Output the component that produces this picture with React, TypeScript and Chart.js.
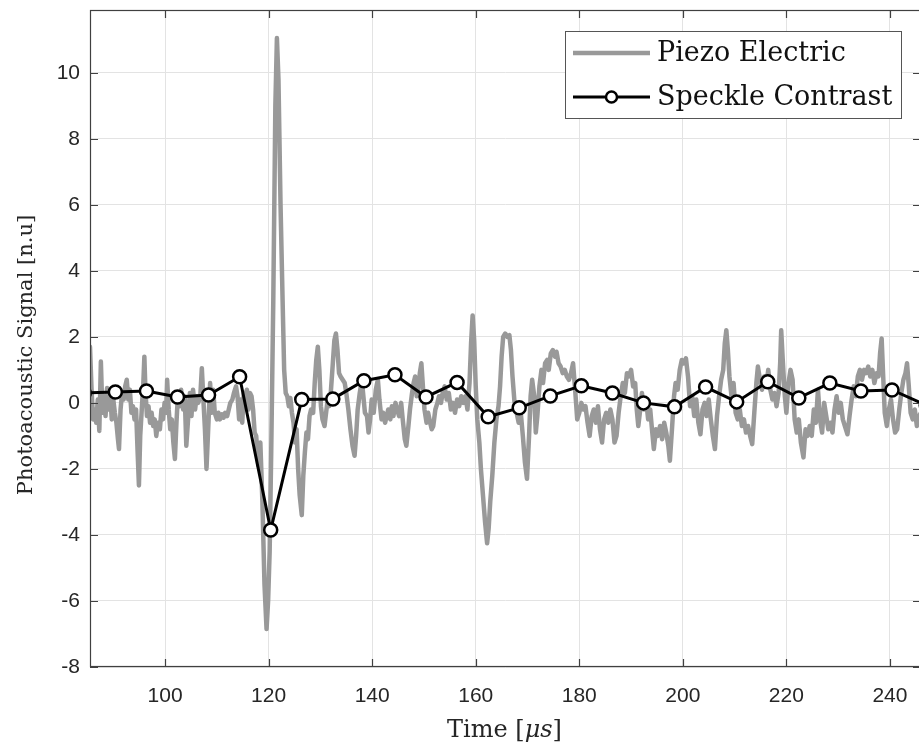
import React, { useEffect, useRef } from "react";
import { Chart, registerables } from "chart.js";

Chart.register(...registerables);

// ---- axis setup ----
const X_MIN = 85.5;
const X_MAX = 246;
const Y_MIN = -8;
const Y_MAX = 11.9;
const xTickValues = [100, 120, 140, 160, 180, 200, 220, 240];
const yTickValues = [-8, -6, -4, -2, 0, 2, 4, 6, 8, 10];

const xTitleParts: [string, boolean][] = [["Time [", false], ["\u03bcs", true], ["]", false]];
const yTitle = "Photoacoustic Signal [n.u]";
const piezoLabel = "Piezo Electric";
const speckleLabel = "Speckle Contrast";

// ---- Speckle contrast series ----
const speckleTime = [
  84.4, 90.4, 96.4, 102.4, 108.4, 114.4, 120.4, 126.4, 132.4, 138.4, 144.4, 150.4, 156.4, 162.4,
  168.4, 174.4, 180.4, 186.4, 192.4, 198.4, 204.4, 210.4, 216.4, 222.4, 228.4, 234.4, 240.4, 247.0,
];
const speckleValue = [
  0.3, 0.33, 0.36, 0.18, 0.24, 0.79, -3.85, 0.1, 0.12, 0.67, 0.85, 0.18, 0.62, -0.42,
  -0.15, 0.21, 0.52, 0.3, 0.0, -0.12, 0.48, 0.03, 0.64, 0.15, 0.6, 0.36, 0.39, -0.07,
];

// ---- Piezo electric series: [time, value] ----
const piezoPoints: [number, number][] = [
  [85.5, 1.7], [85.8, 0.4], [86.1, -0.5], [86.4, -0.2], [86.7, -0.6], [87.0, 0.1], [87.3, -0.85], [87.6, 1.25],
  [87.9, -0.3], [88.2, 0.2], [88.5, -0.4], [88.8, 0.45], [89.1, -0.2], [89.4, 0.3], [89.7, -0.5], [90.0, 0.1],
  [90.3, -0.3], [90.6, -0.6], [90.9, -1.1], [91.1, -1.4], [91.4, -0.2], [91.7, 0.3], [92.0, 0.1], [92.3, 0.5],
  [92.6, 0.7], [92.9, 0.1], [93.2, 0.4], [93.5, -0.3], [93.8, -0.1], [94.1, -0.5], [94.4, -0.2], [94.7, -1.5],
  [94.95, -2.5], [95.2, -1.0], [95.5, -0.2], [95.8, 0.6], [96.0, 1.4], [96.2, 0.4], [96.5, -0.4], [96.8, -0.1],
  [97.1, -0.6], [97.4, -0.3], [97.7, -0.7], [98.0, -0.5], [98.3, -1.0], [98.6, -0.6], [99.0, -0.8], [99.3, -0.2],
  [99.6, -0.5], [99.9, 0.0], [100.2, -0.3], [100.4, 0.7], [100.7, -0.2], [101.0, -0.8], [101.3, -0.5], [101.6, -1.2],
  [101.9, -1.7], [102.2, -0.6], [102.5, 0.3], [102.8, -0.1], [103.1, 0.4], [103.5, -0.2], [103.8, 0.2], [104.1, -1.3],
  [104.4, -0.6], [104.8, 0.3], [105.1, -0.4], [105.4, 0.4], [105.8, -0.2], [106.1, 0.2], [106.4, 0.0], [106.8, 0.2],
  [107.1, 1.05], [107.4, 0.1], [107.7, -0.8], [108.0, -2.0], [108.3, -0.9], [108.7, 0.6], [109.0, -0.3], [109.3, 0.4],
  [109.6, -0.3], [110.0, -0.5], [110.3, -0.3], [110.6, -0.5], [111.0, -0.35], [111.3, -0.45], [111.6, -0.3], [112.0, -0.4],
  [112.3, -0.2], [112.6, 0.0], [113.0, 0.1], [113.3, 0.3], [113.7, 0.5], [114.0, 0.2], [114.3, -0.5], [114.6, 0.1],
  [114.9, -0.6], [115.2, 0.3], [115.5, 0.2], [115.8, 0.4], [116.1, -0.2], [116.4, 0.3], [116.7, 0.2], [117.0, -0.2],
  [117.3, -0.9], [117.6, -1.0], [118.0, -1.9], [118.4, -1.2], [118.8, -3.0], [119.2, -5.5], [119.6, -6.85], [119.9, -6.0],
  [120.2, -4.5], [120.5, -1.5], [120.9, 3.1], [121.3, 9.0], [121.6, 11.05], [121.9, 9.8], [122.3, 6.0], [122.7, 3.1],
  [123.0, 1.0], [123.3, 0.3], [123.6, 0.2], [123.9, -0.1], [124.2, 0.15], [124.5, -0.3], [124.8, -0.6], [125.1, -1.2],
  [125.4, -0.8], [125.7, -2.0], [126.0, -2.8], [126.4, -3.4], [126.7, -2.2], [127.0, -1.5], [127.3, -0.9], [127.6, -1.1],
  [127.9, -0.4], [128.2, -0.2], [128.6, -0.3], [128.9, 0.6], [129.2, 1.3], [129.5, 1.7], [129.8, 1.0], [130.1, -0.1],
  [130.4, -0.5], [130.8, -0.7], [131.1, -0.3], [131.4, 0.1], [131.7, -0.1], [132.0, 0.3], [132.4, 1.2], [132.7, 1.9],
  [133.0, 2.1], [133.3, 1.6], [133.6, 0.9], [133.9, 0.8], [134.3, 0.7], [134.7, 0.6], [135.0, 0.3], [135.4, -0.2],
  [135.8, -0.8], [136.2, -1.3], [136.6, -1.6], [136.9, -1.0], [137.2, -0.2], [137.6, 0.3], [138.0, 0.7], [138.3, 0.2],
  [138.6, -0.3], [139.0, -0.4], [139.3, -0.9], [139.6, -0.5], [139.9, 0.1], [140.3, -0.3], [140.7, 0.4], [141.1, 0.7],
  [141.4, 0.1], [141.8, -0.5], [142.1, -0.3], [142.5, -0.6], [142.8, -0.4], [143.1, -0.2], [143.5, -0.5], [143.8, -0.1],
  [144.1, -0.4], [144.5, 0.0], [144.8, -0.2], [145.2, -0.4], [145.6, 0.0], [145.9, -0.5], [146.3, -1.1], [146.6, -1.3],
  [147.0, -0.7], [147.3, -0.2], [147.7, 0.3], [148.0, 0.6], [148.3, 0.8], [148.6, 0.2], [148.9, 0.4], [149.2, 0.9],
  [149.5, 1.2], [149.8, 0.5], [150.1, -0.2], [150.5, -0.6], [150.8, -0.3], [151.2, -0.6], [151.5, -0.8], [151.8, -0.7],
  [152.2, -0.2], [152.6, 0.0], [152.9, 0.2], [153.3, 0.0], [153.6, 0.3], [154.0, 0.5], [154.4, 0.1], [154.8, 0.3],
  [155.2, -0.2], [155.6, 0.0], [156.0, -0.3], [156.4, 0.1], [156.8, -0.1], [157.2, 0.2], [157.6, 0.0], [158.0, 0.2],
  [158.4, -0.2], [158.8, 0.6], [159.1, 1.8], [159.4, 2.65], [159.7, 1.9], [160.0, 0.5], [160.3, -0.5], [160.7, -1.2],
  [161.0, -2.0], [161.4, -2.8], [161.8, -3.6], [162.2, -4.25], [162.5, -3.8], [162.8, -3.0], [163.2, -2.2], [163.6, -1.2],
  [164.0, -0.5], [164.4, -0.1], [164.7, 0.5], [165.0, 1.4], [165.3, 2.0], [165.7, 2.1], [166.1, 2.0], [166.5, 2.05],
  [166.8, 1.6], [167.1, 0.8], [167.5, 0.0], [167.9, -0.3], [168.3, -0.6], [168.7, -0.3], [169.1, -1.0], [169.5, -1.8],
  [169.9, -2.3], [170.3, -1.0], [170.6, 0.2], [170.9, 0.7], [171.3, 0.2], [171.6, -0.9], [171.9, -0.4], [172.3, 0.5],
  [172.7, 1.0], [173.0, 0.6], [173.4, 1.2], [173.8, 1.3], [174.1, 1.0], [174.5, 1.5], [174.9, 1.6], [175.3, 1.4],
  [175.6, 1.55], [176.0, 1.2], [176.4, 1.1], [176.8, 0.9], [177.2, 1.0], [177.6, 0.8], [178.0, 0.7], [178.4, 0.9],
  [178.8, 1.2], [179.2, 0.4], [179.6, -0.5], [180.0, -0.3], [180.4, 0.0], [180.8, -0.2], [181.2, -0.1], [181.6, -0.6],
  [182.0, -1.0], [182.4, -0.4], [182.8, -0.2], [183.2, -0.6], [183.6, -0.1], [184.0, -0.8], [184.4, -1.2], [184.8, -0.5],
  [185.2, -0.3], [185.6, -0.6], [186.0, -0.2], [186.4, -0.5], [186.8, -1.2], [187.2, -1.0], [187.6, -0.3], [188.0, 0.2],
  [188.4, 0.6], [188.8, 0.3], [189.2, 0.9], [189.6, 0.8], [190.0, 1.0], [190.4, 0.5], [190.8, 0.6], [191.1, -0.2],
  [191.4, -0.7], [191.7, -0.3], [192.1, 0.3], [192.5, -0.2], [192.9, 0.1], [193.3, -0.5], [193.7, -0.2], [194.1, -0.9],
  [194.4, -1.4], [194.8, -0.8], [195.2, -1.0], [195.6, -0.7], [196.0, -1.1], [196.4, -0.6], [196.8, -0.9], [197.2, -1.3],
  [197.5, -1.75], [197.9, -0.8], [198.3, 0.2], [198.6, 0.6], [199.0, 0.4], [199.4, 1.0], [199.8, 1.3], [200.2, 1.2],
  [200.6, 1.35], [201.0, 0.8], [201.4, -0.1], [201.8, 0.2], [202.2, -0.4], [202.6, 0.1], [203.0, -0.6], [203.4, -0.95],
  [203.8, -0.2], [204.2, 0.0], [204.6, -0.4], [205.0, 0.1], [205.4, -0.5], [205.8, -1.0], [206.2, -1.4], [206.6, -0.4],
  [207.0, 0.2], [207.4, 0.7], [207.8, 1.0], [208.1, 1.8], [208.4, 2.2], [208.7, 1.6], [209.0, 0.8], [209.4, 0.2],
  [209.8, 0.6], [210.2, -0.3], [210.6, -0.5], [211.0, -0.2], [211.4, -0.7], [211.8, -0.5], [212.2, -0.9], [212.6, -0.7],
  [213.0, -1.0], [213.4, -1.25], [213.8, -0.3], [214.2, 0.6], [214.5, 1.1], [214.9, 0.7], [215.3, 0.4], [215.7, 0.8],
  [216.1, 0.5], [216.5, 1.0], [216.9, 0.4], [217.3, 0.1], [217.7, 0.3], [218.1, -0.1], [218.5, 0.3], [218.8, 1.2],
  [219.0, 2.2], [219.3, 1.3], [219.7, 0.2], [220.0, -0.3], [220.4, 0.6], [220.8, 1.0], [221.2, 0.7], [221.6, -0.5],
  [222.0, -0.9], [222.4, -0.5], [222.8, -1.2], [223.3, -1.65], [223.7, -0.8], [224.1, -1.0], [224.5, -0.7], [224.9, -1.0],
  [225.3, -0.2], [225.7, -0.6], [226.1, 0.4], [226.5, -0.5], [226.9, -0.9], [227.3, 0.0], [227.7, -0.4], [228.1, -0.8],
  [228.5, -0.6], [228.9, -0.9], [229.3, -0.2], [229.7, 0.2], [230.1, -0.3], [230.5, 0.0], [230.9, -0.5], [231.3, -0.7],
  [231.8, -0.95], [232.2, -0.4], [232.6, 0.1], [233.0, 0.5], [233.4, 0.2], [233.8, 0.8], [234.2, 1.0], [234.6, 0.7],
  [235.0, 1.0], [235.4, 0.9], [235.8, 1.1], [236.2, 0.8], [236.6, 1.0], [237.0, 0.6], [237.4, 0.9], [237.8, 0.8],
  [238.1, 1.5], [238.4, 1.95], [238.7, 0.8], [239.0, -0.3], [239.4, -0.7], [239.8, -0.2], [240.2, 0.1], [240.6, -0.5],
  [241.0, -0.9], [241.4, -0.8], [241.8, -0.2], [242.2, 0.3], [242.6, 0.7], [243.0, 0.9], [243.3, 1.2], [243.6, 0.6],
  [244.0, -0.3], [244.4, -0.5], [244.8, -0.2], [245.2, -0.7], [245.6, -0.4], [246.0, -0.3],
];

const AXIS_COLOR = "#404040";
const TEXT_COLOR = "#262626";
const GRID_COLOR = "#e3e3e3";
const PIEZO_COLOR = "#999999";
const SERIF = '"DejaVu Serif", serif';
const SANS = '"Liberation Sans", Arial, sans-serif';

const zeroPadding = (s: any) => {
  s.paddingTop = 0;
  s.paddingBottom = 0;
  s.paddingLeft = 0;
  s.paddingRight = 0;
};

const framePlugin = {
  id: "matlabFrame",
  afterDraw(chart: any) {
    const { ctx, chartArea: a, scales } = chart;
    const xs = scales.x;
    const ys = scales.y;
    ctx.save();
    // box
    ctx.strokeStyle = AXIS_COLOR;
    ctx.lineWidth = 1.2;
    ctx.strokeRect(a.left + 0.5, a.top + 0.5, a.right - a.left - 1, a.bottom - a.top - 1);
    // inward ticks
    const tl = 8;
    ctx.beginPath();
    xTickValues.forEach((v) => {
      const px = Math.round(xs.getPixelForValue(v)) + 0.5;
      ctx.moveTo(px, a.bottom);
      ctx.lineTo(px, a.bottom - tl);
      ctx.moveTo(px, a.top);
      ctx.lineTo(px, a.top + tl);
    });
    yTickValues.forEach((v) => {
      const py = Math.round(ys.getPixelForValue(v)) + 0.5;
      ctx.moveTo(a.left, py);
      ctx.lineTo(a.left + tl, py);
      ctx.moveTo(a.right, py);
      ctx.lineTo(a.right - tl, py);
    });
    ctx.stroke();

    // x title with italic part
    ctx.fillStyle = TEXT_COLOR;
    ctx.textBaseline = "alphabetic";
    ctx.textAlign = "left";
    const fontN = `24px ${SERIF}`;
    const fontI = `italic 24px ${SERIF}`;
    let total = 0;
    xTitleParts.forEach(([t, it]) => {
      ctx.font = it ? fontI : fontN;
      total += ctx.measureText(t).width;
    });
    let cx = (a.left + 919) / 2 - total / 2;
    xTitleParts.forEach(([t, it]) => {
      ctx.font = it ? fontI : fontN;
      ctx.fillText(t, cx, 737);
      cx += ctx.measureText(t).width;
    });

    // y title
    ctx.save();
    ctx.translate(27, 355);
    ctx.rotate(-Math.PI / 2);
    ctx.font = `21px ${SERIF}`;
    ctx.textAlign = "center";
    ctx.textBaseline = "middle";
    ctx.fillText(yTitle, 0, 0);
    ctx.restore();

    // legend
    const boxL = 565, boxT = 31, boxR = 902, boxB = 119;
    ctx.fillStyle = "#ffffff";
    ctx.fillRect(boxL, boxT, boxR - boxL, boxB - boxT);
    ctx.strokeStyle = "#555555";
    ctx.lineWidth = 1;
    ctx.strokeRect(boxL + 0.5, boxT + 0.5, boxR - boxL - 1, boxB - boxT - 1);
    const rows = [53, 97];
    const ds = chart.data.datasets;
    ctx.font = `27px ${SERIF}`;
    ctx.textAlign = "left";
    ctx.textBaseline = "middle";
    // row 1: piezo
    ctx.strokeStyle = PIEZO_COLOR;
    ctx.lineWidth = 4.5;
    ctx.beginPath();
    ctx.moveTo(573, rows[0]);
    ctx.lineTo(650, rows[0]);
    ctx.stroke();
    ctx.fillStyle = "#111111";
    ctx.fillText(ds[0].label, 657, rows[0] + 1);
    // row 2: speckle
    ctx.strokeStyle = "#000000";
    ctx.lineWidth = 3;
    ctx.beginPath();
    ctx.moveTo(573, rows[1]);
    ctx.lineTo(650, rows[1]);
    ctx.stroke();
    ctx.lineWidth = 2.5;
    ctx.fillStyle = "#ffffff";
    ctx.beginPath();
    ctx.arc(611.5, rows[1], 5.5, 0, Math.PI * 2);
    ctx.fill();
    ctx.stroke();
    ctx.fillStyle = "#111111";
    ctx.fillText(ds[1].label, 657, rows[1] + 1);
    ctx.restore();
  },
};

export default function App() {
  const ref = useRef<HTMLCanvasElement | null>(null);
  useEffect(() => {
    if (!ref.current) return;
    const chart = new Chart(ref.current, {
      type: "line",
      data: {
        datasets: [
          {
            label: piezoLabel,
            data: piezoPoints.map(([x, y]) => ({ x, y })),
            borderColor: PIEZO_COLOR,
            borderWidth: 4.5,
            pointRadius: 0,
            borderJoinStyle: "round",
            borderCapStyle: "round",
            tension: 0,
            clip: 0,
            order: 2,
          } as any,
          {
            label: speckleLabel,
            data: speckleTime.map((t, i) => ({ x: t, y: speckleValue[i] })),
            borderColor: "#000000",
            borderWidth: 3,
            pointRadius: 6.5,
            pointBorderWidth: 2.5,
            pointBorderColor: "#000000",
            pointBackgroundColor: "#ffffff",
            tension: 0,
            clip: 0,
            order: 1,
          } as any,
        ],
      },
      options: {
        responsive: false,
        animation: false,
        devicePixelRatio: 1,
        layout: { autoPadding: false, padding: { top: 10, left: 0, right: 0, bottom: 0 } },
        plugins: { legend: { display: false }, tooltip: { enabled: false } },
        scales: {
          x: {
            type: "linear",
            min: X_MIN,
            max: X_MAX,
            afterBuildTicks: (s: any) => {
              s.ticks = xTickValues.map((v) => ({ value: v }));
            },
            afterFit: (s: any) => {
              s.height = 80;
              zeroPadding(s);
            },
            grid: { color: GRID_COLOR, lineWidth: 1, drawTicks: false },
            border: { display: false },
            ticks: {
              padding: 17,
              color: TEXT_COLOR,
              font: { family: SANS, size: 21 },
              maxRotation: 0,
              autoSkip: false,
            },
          },
          y: {
            type: "linear",
            min: Y_MIN,
            max: Y_MAX,
            afterBuildTicks: (s: any) => {
              s.ticks = yTickValues.map((v) => ({ value: v }));
            },
            afterFit: (s: any) => {
              s.width = 90;
              zeroPadding(s);
            },
            grid: { color: GRID_COLOR, lineWidth: 1, drawTicks: false },
            border: { display: false },
            ticks: {
              padding: 10,
              color: TEXT_COLOR,
              font: { family: SANS, size: 21 },
              autoSkip: false,
            },
          },
        },
      },
      plugins: [framePlugin],
    } as any);
    return () => chart.destroy();
  }, []);

  return (
    <div style={{ position: "fixed", left: 0, top: 0, width: 919, height: 747, overflow: "hidden", background: "#fff" }}>
      <canvas ref={ref} width={921} height={747} style={{ display: "block", width: 921, height: 747 }} />
    </div>
  );
}
